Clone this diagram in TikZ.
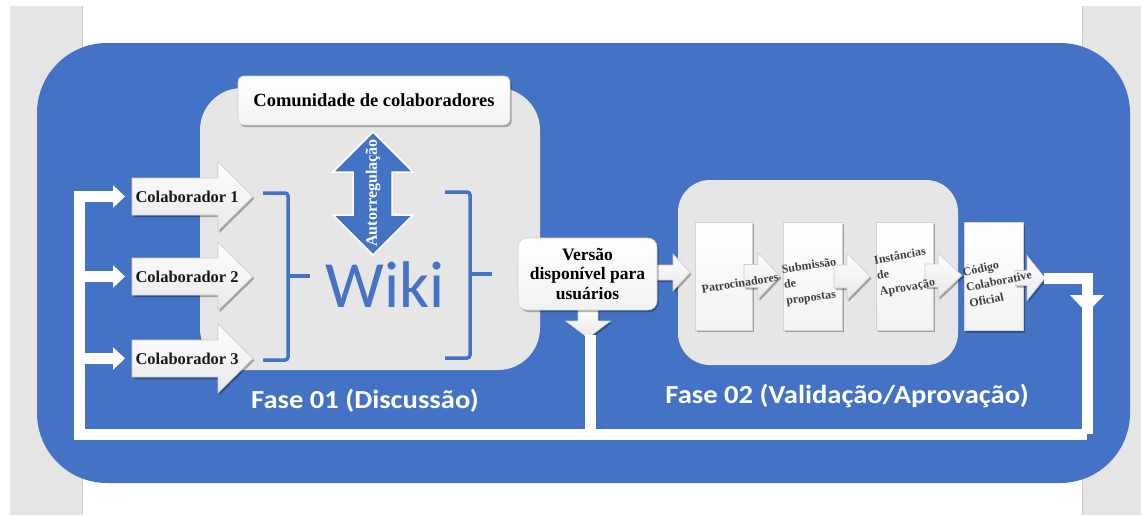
\documentclass[tikz,border=0pt]{standalone}
\usepackage{fontspec}
\setmainfont{Liberation Serif}
\newfontfamily\sansfase{Carlito}
\usetikzlibrary{shadows,arrows.meta}
\definecolor{azul}{HTML}{4472C4}
\definecolor{painel}{HTML}{E6E6E6}
\definecolor{margem}{HTML}{E5E5E5}
\tikzset{
  sombra/.style={drop shadow={shadow xshift=1.5pt,shadow yshift=-2pt,opacity=0.3,fill=black}},
  caixa/.style={draw=gray!35, line width=0.6pt, top color=white, bottom color=gray!10, sombra},
  setafill/.style={draw=gray!40, line width=0.6pt, top color=white, bottom color=gray!18, sombra},
  pics/setad/.style n args={4}{code={%
    \path[setafill] (0,-#3) -- (#1,-#3) -- (#1,-#4) -- ({#1+#2},0) -- (#1,#4) -- (#1,#3) -- (0,#3) -- cycle;}},
  linhabranca/.style={draw=white, line width=11pt},
  pontabranca/.style={-{Triangle[length=12pt,width=22pt]}},
  rotcol/.style={font=\bfseries\fontsize{16.5}{16.5}\selectfont, text=black!90},
  rotfase/.style={font=\sansfase\bfseries\fontsize{26}{26}\selectfont, text=white, xscale=1.1},
  rotetapa/.style={font=\bfseries\fontsize{12}{16}\selectfont, text=black!75, align=left, inner sep=0pt},
  chave/.style={draw=azul, line width=3.5pt, rounded corners=3pt},
}
\begin{document}
\begin{tikzpicture}[x=1pt,y=-1pt]
\useasboundingbox (0,0) rectangle (1141,515);
% page and side margins
\fill[white] (0,0) rectangle (1141,515);
\fill[margem] (10,6) rectangle (82,515);
\fill[margem] (1082,6) rectangle (1141,515);
\draw[gray!40, line width=0.8pt] (82,6) -- (82,515) (1082,6) -- (1082,515);
% blue frame
\fill[azul, rounded corners=70pt] (37,43) rectangle (1130,483);
% phase panels
\fill[painel, rounded corners=42pt] (200,88) rectangle (540,370);
\fill[painel, rounded corners=32pt] (678,180) rectangle (958,365);

% phase 01: community, self-regulation and wiki
\node[caixa, rounded corners=6pt, minimum width=272pt, minimum height=49pt,
      font=\bfseries\fontsize{18.5}{18.5}\selectfont] (comunidade) at (374,100.5) {Comunidade de colaboradores};
\path[fill=azul, draw=white, line width=1.5pt]
  (373,132) -- (413,172) -- (392,172) -- (392,215) -- (413,215) -- (373,255)
  -- (333,215) -- (353,215) -- (353,172) -- (333,172) -- cycle;
\node[rotate=90, text=white, font=\bfseries\fontsize{16}{16}\selectfont] (autorreg) at (373,193) {Autorregulação};
\node[anchor=base, text=azul, font=\sansfase\fontsize{66}{66}\selectfont] (wiki) at (385.5,307) {Wiki};
\draw[chave] (263,193) -- (288,193) -- (288,360) -- (263,360);
\draw[chave] (288,276) -- (310,276);
\draw[chave] (445,192) -- (470,192) -- (470,358) -- (445,358);
\draw[chave] (470,274) -- (492,274);

% contributors
\pic at (132,196.5) {setad={86}{35}{18.5}{34.5}};
\pic at (132,276.5) {setad={86}{35}{18.5}{34}};
\pic at (132,358.5) {setad={86}{35}{18.5}{34.5}};
\node[rotcol, anchor=west] (col1) at (132,196.5) {Colaborador 1};
\node[rotcol, anchor=west] (col2) at (132,276.5) {Colaborador 2};
\node[rotcol, anchor=west] (col3) at (132,358.5) {Colaborador 3};

% released version
\pic at (655,272.5) {setad={18}{17}{7.5}{18.5}};
\pic[rotate=-90] at (588,309) {setad={12}{17}{10}{22.5}};
\node[caixa, rounded corners=9pt, minimum width=139pt, minimum height=72pt, align=center,
      font=\bfseries\fontsize{17.5}{19.5}\selectfont] (versao) at (587.5,274) {Versão\\disponível para\\usuários};

% phase 02: validation steps
\node[caixa, minimum width=57pt, minimum height=108pt] (b1) at (723.5,276) {};
\node[caixa, minimum width=59pt, minimum height=108pt] (b2) at (812.5,276) {};
\node[caixa, minimum width=57pt, minimum height=108pt] (b3) at (904.5,276) {};
\node[caixa, minimum width=59pt, minimum height=108pt] (b4) at (993.5,276.5) {};
\pic at (744,276) {setad={14}{22}{11.5}{23}};
\pic at (834,276.5) {setad={13}{23}{11.5}{23.5}};
\pic at (925,275.5) {setad={13}{24}{11.5}{22.5}};
\pic at (1015,278) {setad={12}{18}{7.5}{22.5}};
\node[rotetapa, rotate=9] (t1) at (740,283) {Patrocinadores};
\node[rotetapa, rotate=8, anchor=west] (t2) at (784,286) {Submissão\\de\\propostas};
\node[rotetapa, rotate=10, anchor=west] (t3) at (877,277) {Instâncias\\de\\Aprovação};
\node[rotetapa, rotate=12, anchor=west] (t4) at (966,288) {Código\\Colaborative\\Oficial};

% phase labels
\node[rotfase] (fase1) at (365,401) {Fase 01 (Discussão)};
\node[rotfase] (fase2) at (847,396) {Fase 02 (Validação/Aprovação)};

% feedback loop
\coordinate (cantoInfEsq) at (79,434);
\coordinate (cantoSupEsq) at (79,196.5);
\coordinate (cantoInfDir) at (1087,434);
\coordinate (cantoSupDir) at (1087,278);
\coordinate (saidaCodigo) at (1044,278);
\coordinate (setaDir) at (1087,313);
\coordinate (retornoDir) at (1087,306);
\coordinate (saidaVersao) at (590,335);
\draw[linhabranca, -{Triangle[length=18pt,width=33pt]}] (saidaCodigo) -- (cantoSupDir) -- (setaDir);
\draw[linhabranca] (retornoDir) -- (cantoInfDir);
\draw[linhabranca, pontabranca, shorten >=7pt] (cantoInfDir) -- (cantoInfEsq) -- (cantoSupEsq) -- (col1.west);
\draw[linhabranca, pontabranca, shorten >=7pt] (cantoSupEsq |- col2.west) -- (col2.west);
\draw[linhabranca, pontabranca, shorten >=7pt] (cantoSupEsq |- col3.west) -- (col3.west);
\draw[linhabranca] (saidaVersao) -- (saidaVersao |- cantoInfEsq);
\end{tikzpicture}
\end{document}
